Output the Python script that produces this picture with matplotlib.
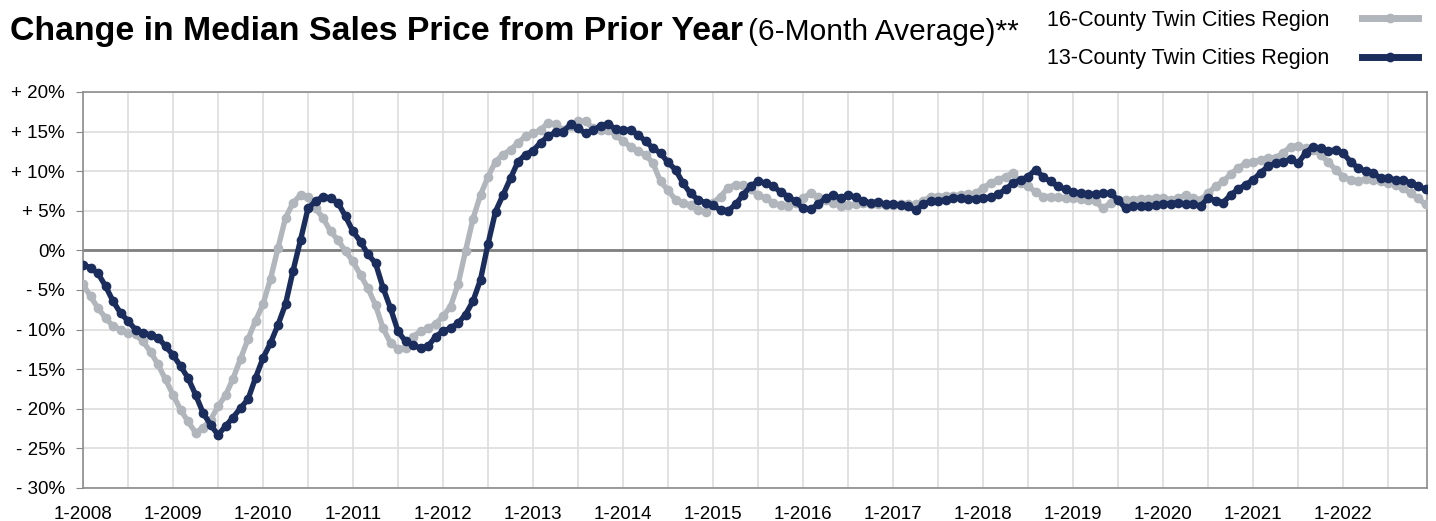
import numpy as np
import matplotlib
matplotlib.use("Agg")
import matplotlib.pyplot as plt
from matplotlib.lines import Line2D

plt.rcParams['font.family'] = ['Liberation Sans', 'DejaVu Sans']

# monthly values, 1-2008 .. 12-2022, percent change (6-month average)
county16 = [
    -4.3, -5.8, -7.3, -8.5, -9.6, -10.0, -10.4, -10.6, -11.5, -12.8, -14.4, -16.3,   # 2008
    -18.2, -20.1, -21.6, -23.0, -22.4, -21.4, -19.7, -18.3, -16.2, -13.7, -11.2, -8.9,  # 2009
    -6.8, -3.6, 0.3, 4.1, 6.0, 7.0, 6.8, 5.3, 4.1, 2.4, 1.3, -0.1,   # 2010
    -1.4, -3.1, -4.8, -6.9, -9.8, -11.7, -12.4, -12.3, -10.9, -10.2, -9.8, -9.3,   # 2011
    -8.3, -7.1, -4.3, -0.1, 4.0, 7.0, 9.3, 11.2, 12.1, 12.7, 13.6, 14.4,   # 2012
    14.8, 15.2, 16.1, 15.9, 15.2, 15.7, 16.3, 16.3, 15.4, 15.2, 15.2, 14.6,   # 2013
    13.8, 13.1, 12.5, 12.1, 11.0, 8.7, 7.6, 6.4, 6.0, 5.7, 5.1, 4.9,   # 2014
    6.0, 6.8, 7.9, 8.3, 8.3, 7.7, 7.0, 6.6, 6.0, 5.7, 5.6, 6.0,   # 2015
    6.6, 7.2, 6.8, 6.4, 6.0, 5.6, 5.7, 5.8, 6.0, 5.9, 5.8, 5.7,   # 2016
    5.7, 5.9, 5.8, 5.8, 6.2, 6.8, 6.8, 6.9, 6.9, 7.0, 7.1, 7.2,   # 2017
    7.9, 8.5, 8.9, 9.3, 9.8, 8.5, 8.1, 7.4, 6.8, 6.8, 6.7, 6.6,   # 2018
    6.6, 6.5, 6.4, 6.2, 5.3, 6.0, 6.4, 6.4, 6.4, 6.5, 6.5, 6.6,   # 2019
    6.6, 6.4, 6.6, 7.0, 6.6, 6.4, 7.2, 8.1, 8.7, 9.6, 10.4, 11.0,   # 2020
    11.2, 11.4, 11.7, 11.7, 12.3, 13.1, 13.2, 12.9, 12.7, 12.1, 11.2, 10.2,   # 2021
    9.3, 8.9, 8.7, 9.0, 8.9, 8.7, 8.5, 8.2, 7.9, 7.2, 6.6, 5.8,   # 2022
]
county13 = [
    -1.8, -2.2, -2.9, -4.5, -6.4, -7.9, -8.9, -10.0, -10.4, -10.7, -11.0, -12.1,   # 2008
    -13.2, -14.6, -16.1, -18.2, -20.5, -22.0, -23.3, -22.2, -21.1, -19.9, -18.8, -16.1,  # 2009
    -13.6, -11.7, -9.4, -6.8, -2.6, 1.3, 5.3, 6.2, 6.8, 6.6, 6.0, 4.3,   # 2010
    2.4, 1.1, -0.5, -1.6, -4.7, -7.3, -10.2, -11.5, -12.0, -12.3, -12.1, -10.9,   # 2011
    -10.2, -9.8, -9.2, -8.1, -6.4, -3.7, 0.8, 4.9, 7.0, 9.1, 11.2, 12.1,   # 2012
    12.6, 13.6, 14.4, 14.9, 15.0, 15.9, 15.4, 14.8, 15.2, 15.7, 16.0, 15.3,   # 2013
    15.2, 15.2, 14.6, 13.8, 12.9, 12.3, 11.1, 10.2, 8.5, 7.2, 6.4, 6.0,   # 2014
    5.7, 5.1, 5.0, 5.8, 7.0, 8.1, 8.7, 8.5, 8.1, 7.4, 6.8, 6.2,   # 2015
    5.3, 5.2, 5.8, 6.6, 7.0, 6.6, 7.0, 6.7, 6.2, 6.0, 6.1, 5.8,   # 2016
    5.8, 5.7, 5.6, 5.1, 5.8, 6.2, 6.2, 6.4, 6.6, 6.6, 6.5, 6.5,   # 2017
    6.6, 6.7, 7.1, 7.7, 8.5, 8.9, 9.3, 10.2, 9.3, 8.7, 8.1, 7.7,   # 2018
    7.4, 7.2, 7.1, 7.1, 7.2, 7.2, 6.4, 5.3, 5.6, 5.6, 5.6, 5.7,   # 2019
    5.8, 5.9, 6.0, 5.9, 5.8, 5.6, 6.6, 6.3, 6.0, 7.0, 7.7, 8.3,   # 2020
    8.9, 9.8, 10.6, 11.0, 11.2, 11.5, 11.0, 12.3, 13.1, 12.9, 12.5, 12.7,   # 2021
    12.3, 11.2, 10.4, 10.0, 9.8, 9.1, 9.1, 8.9, 8.9, 8.5, 8.1, 7.7,   # 2022
]
series_names = ['16-County Twin Cities Region', '13-County Twin Cities Region']
yticks = [20, 15, 10, 5, 0, -5, -10, -15, -20, -25, -30]
ytick_labels = ['+ 20%', '+ 15%', '+ 10%', '+ 5%', '0%', '- 5%', '- 10%',
                '- 15%', '- 20%', '- 25%', '- 30%']
years = list(range(2008, 2023))

gray = '#b1b6bc'
navy = '#1b2d5c'

fig = plt.figure(figsize=(14.36, 5.21), dpi=100)
ax = fig.add_axes([83/1436, 33/521, 1344/1436, 396/521])

x = np.arange(len(county13))
ax.plot(x, county16, color=gray, lw=3.9, marker='o', ms=6, zorder=3)
ax.plot(x, county13, color=navy, lw=3.9, marker='o', ms=6, zorder=4)
ax.axhline(0, color='#808080', lw=2, zorder=2)

ax.set_xlim(0, 179.2)
ax.set_ylim(-30, 20)
ax.set_yticks(yticks)
ax.set_yticklabels(ytick_labels)
ax.set_xticks([12*(y - years[0]) for y in years])
ax.set_xticklabels(['1-%d' % y for y in years])
ax.set_xticks(np.arange(6, 180, 12), minor=True)
ax.grid(True, which='both', color='#dddddd', lw=1.2, zorder=0)
ax.tick_params(axis='y', which='both', length=5, color='#888888', labelsize=13.5, pad=8)
ax.tick_params(axis='x', which='both', length=0, labelsize=13.5, pad=13)
for s in ax.spines.values():
    s.set_color('#8c8c8c')
    s.set_linewidth(1.2)

# title, bold part then normal part
t1 = fig.text(10/1436, 1 - 40/521, 'Change in Median Sales Price from Prior Year',
              weight='bold', fontsize=24.4, va='baseline')
fig.canvas.draw()
bb = t1.get_window_extent(fig.canvas.get_renderer())
fig.text((bb.x1 + 5)/1436, 1 - 40/521, '(6-Month Average)**', fontsize=21.5, va='baseline')

handles = [Line2D([], [], color=gray, lw=5, marker='o', ms=6, markevery=[1]),
           Line2D([], [], color=navy, lw=5, marker='o', ms=6, markevery=[1])]
fig.legend(handles, series_names, loc='upper right', bbox_to_anchor=(1418/1436, 1 - 10/521),
           frameon=False, markerfirst=False, fontsize=15.5, handlelength=2.6,
           handletextpad=1.5, labelspacing=0.8, borderpad=0, borderaxespad=0)

fig.savefig('out.png', dpi=100)
